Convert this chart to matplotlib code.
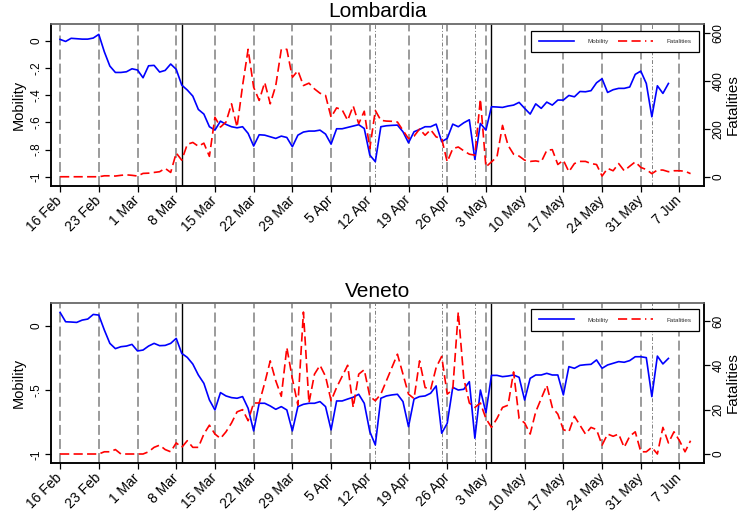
import numpy as np
import pandas as pd
import matplotlib
matplotlib.use('Agg')
import matplotlib.pyplot as plt
import matplotlib.dates as mdates
from matplotlib.lines import Line2D

plt.rcParams['font.family'] = ['Liberation Sans', 'DejaVu Sans']

start = pd.Timestamp('2020-02-16')

# mobility index, one value per day from 16 Feb
lom_mob = [0.01, -0.005, 0.018, 0.015, 0.012, 0.012, 0.02, 0.047, -0.081, -0.186,
           -0.233, -0.233, -0.228, -0.206, -0.215, -0.272, -0.184, -0.181, -0.23, -0.218,
           -0.171, -0.21, -0.326, -0.362, -0.407, -0.505, -0.539, -0.632, -0.657, -0.591,
           -0.615, -0.632, -0.64, -0.632, -0.681, -0.774, -0.691, -0.694, -0.706, -0.718,
           -0.701, -0.711, -0.779, -0.694, -0.671, -0.664, -0.664, -0.657, -0.686, -0.76,
           -0.647, -0.647, -0.637, -0.627, -0.617, -0.645, -0.84, -0.889, -0.632, -0.625,
           -0.622, -0.62, -0.669, -0.75, -0.669, -0.652, -0.632, -0.632, -0.613, -0.742,
           -0.718, -0.613, -0.632, -0.603, -0.581, -0.872, -0.608, -0.657, -0.485, -0.487,
           -0.49, -0.48, -0.473, -0.453, -0.497, -0.539, -0.464, -0.497, -0.451, -0.473,
           -0.436, -0.436, -0.402, -0.412, -0.373, -0.375, -0.367, -0.309, -0.279, -0.38,
           -0.36, -0.35, -0.35, -0.34, -0.247, -0.223, -0.314, -0.559, -0.331, -0.387,
           -0.314]
# daily fatalities from 16 Feb
lom_fat = [0, 0, 0, 0, 0, 0, 0, 0, 4, 4,
           3, 6, 8, 6, 3, 14, 15, 18, 21, 35,
           18, 99, 69, 135, 143, 127, 140, 85, 248, 207,
           228, 304, 207, 380, 531, 373, 318, 393, 304, 380,
           531, 531, 414, 442, 380, 390, 366, 348, 339, 248,
           287, 279, 235, 295, 221, 273, 117, 276, 235, 232,
           231, 228, 193, 159, 169, 199, 173, 196, 166, 159,
           62, 117, 124, 108, 94, 90, 324, 41, 62, 83,
           214, 131, 94, 86, 69, 64, 66, 62, 110, 113,
           51, 69, 21, 55, 64, 64, 55, 51, 3, 35,
           25, 55, 25, 44, 62, 39, 30, 13, 28, 28,
           21, 25, 25, 23, 13]

ven_mob = [0.104, 0.031, 0.029, 0.026, 0.044, 0.052, 0.088, 0.083, -0.033, -0.137,
           -0.178, -0.163, -0.158, -0.145, -0.196, -0.189, -0.158, -0.137, -0.155, -0.153,
           -0.137, -0.098, -0.215, -0.246, -0.298, -0.383, -0.448, -0.577, -0.655, -0.52,
           -0.546, -0.559, -0.564, -0.551, -0.642, -0.818, -0.603, -0.603, -0.624, -0.65,
           -0.629, -0.655, -0.818, -0.629, -0.611, -0.603, -0.603, -0.59, -0.629, -0.81,
           -0.585, -0.585, -0.57, -0.556, -0.533, -0.603, -0.823, -0.927, -0.564, -0.546,
           -0.538, -0.533, -0.59, -0.785, -0.57, -0.551, -0.546, -0.525, -0.468, -0.836,
           -0.759, -0.479, -0.5, -0.494, -0.435, -0.875, -0.5, -0.676, -0.386, -0.386,
           -0.396, -0.391, -0.383, -0.401, -0.578, -0.409, -0.383, -0.383, -0.37, -0.383,
           -0.383, -0.538, -0.318, -0.331, -0.308, -0.303, -0.3, -0.266, -0.331, -0.305,
           -0.292, -0.279, -0.284, -0.271, -0.241, -0.241, -0.248, -0.551, -0.236, -0.297,
           -0.254]
ven_fat = [0, 0, 0, 0, 0, 0, 0, 0, 1, 1,
           2, 0, 0, 0, 0, 0, 1, 3, 4, 2,
           1, 5, 3, 6, 3, 3, 9, 13, 9, 7,
           10, 14, 19, 20, 15, 23, 23, 32, 42, 33,
           26, 48, 34, 22, 64, 23, 36, 40, 35, 24,
           30, 35, 40, 21, 36, 38, 26, 24, 27, 33,
           39, 45, 36, 27, 25, 42, 30, 29, 39, 44,
           27, 29, 64, 34, 23, 21, 23, 16, 12, 16,
           21, 22, 37, 16, 14, 9, 19, 25, 31, 21,
           18, 11, 10, 17, 13, 9, 12, 11, 4, 9,
           8, 9, 3, 8, 10, 1, 1, 3, 0, 12,
           5, 10, 6, 1, 6]

week_labels = ['16 Feb', '23 Feb', '1 Mar', '8 Mar', '15 Mar', '22 Mar', '29 Mar',
               '5 Apr', '12 Apr', '19 Apr', '26 Apr', '3 May', '10 May', '17 May',
               '24 May', '31 May', '7 Jun']
lockdown_days = ['2020-03-09', '2020-05-04']
holidays = ['2020-04-13', '2020-04-25', '2020-05-01', '2020-06-02']

lom_mob_ticks = [0, -0.2, -0.4, -0.6, -0.8, -1]
lom_mob_labels = ['0', '-.2', '-.4', '-.6', '-.8', '-1']
lom_fat_ticks = [0, 200, 400, 600]
ven_mob_ticks = [0, -0.5, -1]
ven_mob_labels = ['0', '-.5', '-1']
ven_fat_ticks = [0, 20, 40, 60]

weeks = pd.date_range(start, periods=len(week_labels), freq='7D')
x_lo = mdates.date2num(start - pd.Timedelta(days=1.7))
x_hi = mdates.date2num(start + pd.Timedelta(days=116.5))

fig = plt.figure(figsize=(7.42, 5.16), dpi=100)


def panel(rect, title, mob, fat, mticks, mlabels, fticks, mlim, flim, tpad):
    ax = fig.add_axes(rect)
    ax2 = ax.twinx()

    for w in weeks:
        ax.axvline(w, color='#808080', lw=1.1, dashes=(6.5, 2.7), zorder=1)
    for h in holidays:
        ax.axvline(pd.Timestamp(h), color='#808080', lw=0.7,
                   linestyle=(0, (4, 2, 1, 2)), zorder=1)
    for d in lockdown_days:
        ax.axvline(pd.Timestamp(d), color='black', lw=1.0, zorder=2)

    mdates_ = pd.date_range(start, periods=len(mob))
    fdates_ = pd.date_range(start, periods=len(fat))
    ax.plot(mdates_, mob, color='#0000ff', lw=1.2, zorder=3)
    ax2.plot(fdates_, fat, color='#ff0000', lw=1.2, dashes=(5.5, 2.6))

    ax.set_xlim(x_lo, x_hi)
    ax.set_ylim(*mlim)
    ax2.set_ylim(*flim)

    ax.set_xticks(weeks)
    ax.set_xticklabels(week_labels, rotation=45, ha='right', va='center',
                       rotation_mode='anchor', fontsize=10)
    ax.set_yticks(mticks)
    ax.set_yticklabels(mlabels, rotation=90, va='center', fontsize=8.5)
    ax2.set_yticks(fticks)
    ax2.set_yticklabels([str(t) for t in fticks], rotation=90, va='center', fontsize=8.5)

    ax.tick_params(axis='both', direction='out', length=4, width=0.9, pad=2)
    ax.tick_params(axis='x', pad=5)
    ax2.tick_params(axis='y', direction='out', length=4, width=0.9, pad=2)

    ax.set_ylabel('Mobility', fontsize=10.5, labelpad=3)
    ax2.set_ylabel('Fatalities', fontsize=11, labelpad=1)
    ax.set_title(title, fontsize=15, pad=tpad)

    for a in (ax, ax2):
        for s in a.spines.values():
            s.set_linewidth(1.1)
            s.set_color('black')
        a.spines['top'].set_color('#707070')

    handles = [Line2D([], [], color='#0000ff', lw=1.2),
               Line2D([], [], color='#ff0000', lw=1.2, dashes=(5.5, 2.6, 5.5, 2.6, 0.8, 2.6))]
    leg = ax2.legend(handles, ['Mobility', 'Fatalities'], ncol=2, fontsize=4.5,
                     loc='upper left', bbox_to_anchor=(0.7344, 0.795, 0.258, 0.165),
                     mode='expand', borderaxespad=0, fancybox=False, edgecolor='black',
                     framealpha=1, handlelength=5.6, handletextpad=2.1,
                     columnspacing=1.4, borderpad=1.3)
    leg.get_frame().set_linewidth(0.9)
    for t in leg.get_texts():
        t.set_color('#333333')
    return ax, ax2


panel([0.0683, 0.640, 0.881, 0.3128], 'Lombardia', lom_mob, lom_fat,
      lom_mob_ticks, lom_mob_labels, lom_fat_ticks, (-1.066, 0.1206), (-37.5, 635), 5)
panel([0.0683, 0.1021, 0.881, 0.3112], 'Veneto', ven_mob, ven_fat,
      ven_mob_ticks, ven_mob_labels, ven_fat_ticks, (-1.07, 0.179), (-4.2, 68.2), 4)

fig.savefig('out.png', dpi=100)
